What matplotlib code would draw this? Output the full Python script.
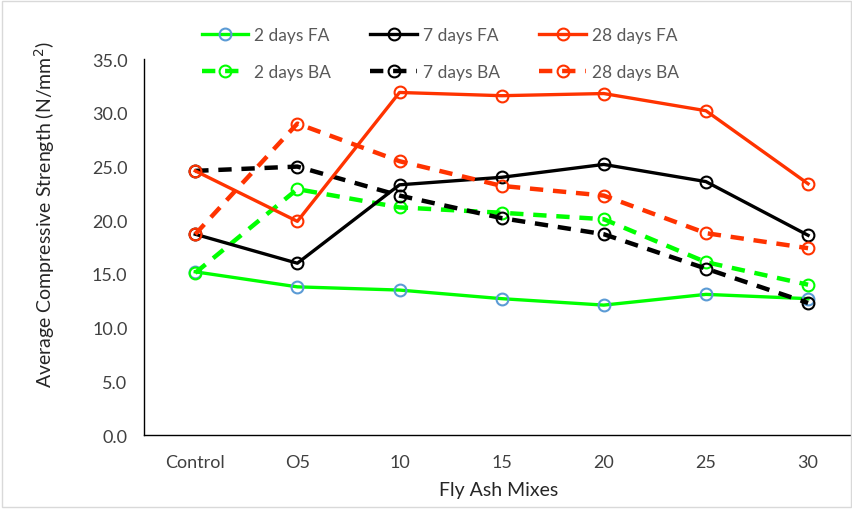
import matplotlib.pyplot as plt
from matplotlib.patches import Rectangle

plt.rcParams['font.family'] = ['Lato', 'DejaVu Sans']

mixes = ["Control", "O5", "10", "15", "20", "25", "30"]

fa_2 = [15.2, 13.8, 13.5, 12.7, 12.1, 13.1, 12.7]
fa_7 = [18.7, 16.0, 23.3, 24.0, 25.2, 23.6, 18.6]
fa_28 = [24.6, 19.9, 31.9, 31.6, 31.8, 30.2, 23.4]
ba_2 = [15.1, 22.9, 21.2, 20.7, 20.1, 16.1, 14.0]
ba_7 = [24.6, 25.0, 22.3, 20.2, 18.7, 15.5, 12.3]
ba_28 = [18.7, 29.0, 25.5, 23.2, 22.3, 18.8, 17.4]

green = "#00FF00"
black = "#000000"
red = "#FF3300"
blue_edge = "#5B9BD5"
text_col = "#404040"


def main():
    fig = plt.figure(figsize=(8.53, 5.10), dpi=100)
    ax = fig.add_axes([0.169, 0.145, 0.831, 0.737])
    x = list(range(len(mixes)))

    series = [
        ("2 days FA", fa_2, green, "-", blue_edge, 2.4),
        ("2 days BA", ba_2, green, "--", green, 3.2),
        ("7 days FA", fa_7, black, "-", black, 2.4),
        ("7 days BA", ba_7, black, "--", black, 3.2),
        ("28 days FA", fa_28, red, "-", red, 2.4),
        ("28 days BA", ba_28, red, "--", red, 3.2),
    ]
    for label, vals, col, ls, edge, lw in series:
        ax.plot(x, vals, linestyle=ls, color=col, linewidth=lw, marker="o",
                markersize=8.5, markerfacecolor="none", markeredgecolor=edge,
                markeredgewidth=1.5, label=label,
                dashes=(3, 2.2) if ls == "--" else (None, None))

    ax.set_xlim(-0.5, 6.44)
    ax.set_ylim(0, 35)
    ax.set_yticks([0, 5, 10, 15, 20, 25, 30, 35])
    ax.set_yticklabels([f"{v:.1f}" for v in [0, 5, 10, 15, 20, 25, 30, 35]])
    ax.set_xticks(x)
    ax.set_xticklabels(mixes)
    ax.tick_params(length=0, labelsize=13, colors=text_col, pad=12)
    ax.tick_params(axis="x", pad=13.5)
    for side in ["top", "right"]:
        ax.spines[side].set_visible(False)
    for side in ["left", "bottom"]:
        ax.spines[side].set_color("#000000")
        ax.spines[side].set_linewidth(1.0)

    ax.set_ylabel("Average Compressive Strength (N/mm$^2$)", fontsize=14,
                  color="#262626")
    ax.yaxis.set_label_coords(-0.123, 0.59)
    ax.set_xlabel("Fly Ash Mixes", fontsize=14, color="#262626", labelpad=8)

    handles, labels = ax.get_legend_handles_labels()
    fig.legend(handles, labels, ncol=3, loc="upper left",
               bbox_to_anchor=(0.218, 0.975), frameon=False, fontsize=12.5,
               handlelength=2.7, columnspacing=2.3, labelspacing=1.18,
               handletextpad=0.3, labelcolor="#595959")

    fig.patches.append(Rectangle((0.002, 0.004), 0.996, 0.992, transform=fig.transFigure,
                                 fill=False, edgecolor="#D9D9D9", linewidth=1.0))

    fig.savefig("out.png", dpi=100)


if __name__ == "__main__":
    main()
